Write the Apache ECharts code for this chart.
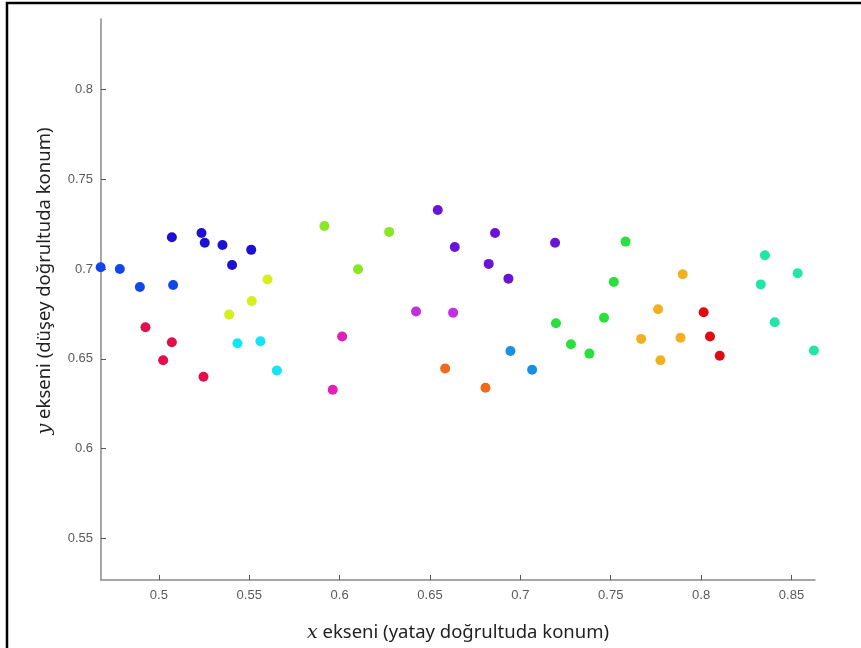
<!DOCTYPE html>
<html>
<head>
<meta charset="utf-8">
<script src="https://cdn.jsdelivr.net/npm/echarts@6/dist/echarts.min.js"></script>
<style>
  html, body { margin: 0; padding: 0; background: #fff; }
  #chart { width: 861px; height: 648px; }
</style>
</head>
<body>
<div id="chart"></div>
<script>
// tick values
var xTicks = [0.5, 0.55, 0.6, 0.65, 0.7, 0.75, 0.8, 0.85];
var yTicks = [0.55, 0.6, 0.65, 0.7, 0.75, 0.8];

// point groups, [x, y]
var blue = [[0.4678, 0.7009], [0.4784, 0.700], [0.4895, 0.690], [0.5079, 0.6911]];
var darkBlue = [[0.5072, 0.7176], [0.5236, 0.720], [0.5254, 0.7146], [0.5352, 0.7133], [0.5405, 0.7022], [0.5511, 0.7106]];
var yellowGreen = [[0.5389, 0.6746], [0.5514, 0.6822], [0.5601, 0.6941]];
var crimson = [[0.4926, 0.6676], [0.5072, 0.6592], [0.5024, 0.6492], [0.5247, 0.640]];
var cyan = [[0.5435, 0.6587], [0.5562, 0.6598], [0.5653, 0.6435]];
var lime = [[0.5916, 0.7239], [0.6102, 0.6998], [0.6274, 0.7206]];
var magenta = [[0.5962, 0.6328], [0.6014, 0.6624]];
var violet = [[0.6423, 0.6763], [0.6628, 0.6757]];
var purple = [[0.6543, 0.7328], [0.6637, 0.7122], [0.6825, 0.7028], [0.6860, 0.720], [0.6934, 0.6946], [0.7192, 0.7146]];
var orange = [[0.6584, 0.6446], [0.6807, 0.6339]];
var skyBlue = [[0.6945, 0.6544], [0.7065, 0.6439]];
var green = [[0.7197, 0.6698], [0.7280, 0.6581], [0.7382, 0.6529], [0.7463, 0.6729], [0.7517, 0.6928], [0.7582, 0.7152]];
var gold = [[0.7668, 0.6611], [0.7762, 0.6776], [0.7775, 0.6492], [0.7886, 0.6617], [0.7898, 0.6970]];
var red = [[0.8014, 0.6759], [0.8049, 0.6624], [0.8103, 0.6517]];
var teal = [[0.8330, 0.6914], [0.8353, 0.7076], [0.8407, 0.6703], [0.8534, 0.6976], [0.8624, 0.6546]];

var groups = [
    [blue, '#1246e8'],
    [darkBlue, '#1c10d4'],
    [yellowGreen, '#d4ee1e'],
    [crimson, '#e0104e'],
    [cyan, '#14e4f6'],
    [lime, '#8ae628'],
    [magenta, '#e020b6'],
    [violet, '#c42ee0'],
    [purple, '#6a14d8'],
    [orange, '#f06818'],
    [skyBlue, '#1a90e2'],
    [green, '#2ae03c'],
    [gold, '#f0b020'],
    [red, '#e00a12'],
    [teal, '#22e6a6']
];

var axisColor = '#8a8a8a';
var labelStyle = {color: '#5a5a5a', fontSize: 13, fontFamily: 'Liberation Sans, Arial, sans-serif'};

var option = {
    animation: false,
    backgroundColor: '#fff',
    grid: {left: 101, right: 46, top: 19, bottom: 68},
    xAxis: {
        type: 'value',
        min: 0.468,
        max: 0.863,
        splitLine: {show: false},
        axisLine: {lineStyle: {color: axisColor, width: 1.5}},
        axisTick: {inside: true, length: 5, customValues: xTicks, lineStyle: {color: '#555'}},
        axisLabel: Object.assign({customValues: xTicks, margin: 9}, labelStyle)
    },
    yAxis: {
        type: 'value',
        min: 0.527,
        max: 0.839,
        splitLine: {show: false},
        axisLine: {lineStyle: {color: axisColor, width: 1.5}},
        axisTick: {inside: true, length: 5, customValues: yTicks, lineStyle: {color: '#555'}},
        axisLabel: Object.assign({customValues: yTicks, margin: 8}, labelStyle)
    },
    series: groups.map(function (g) {
        return {
            type: 'scatter',
            data: g[0],
            symbolSize: 10,
            clip: false,
            itemStyle: {color: g[1], opacity: 1}
        };
    }),
    graphic: [
        {
            type: 'rect',
            shape: {x: 7, y: 3, width: 900, height: 700},
            style: {fill: null, stroke: '#000', lineWidth: 2.5}
        },
        {
            type: 'text',
            x: 458, y: 633,
            style: {
                text: '{i|x} ekseni (yatay doğrultuda konum)',
                fontFamily: 'Noto Sans', fontSize: 18.5, fill: '#222',
                align: 'center', verticalAlign: 'middle',
                rich: {i: {fontFamily: 'DejaVu Serif', fontStyle: 'italic', fontSize: 19, fill: '#222'}}
            }
        },
        {
            type: 'text',
            x: 45, y: 281,
            rotation: Math.PI / 2,
            style: {
                text: '{i|y} ekseni (düşey doğrultuda konum)',
                fontFamily: 'Noto Sans', fontSize: 18.5, fill: '#222',
                align: 'center', verticalAlign: 'middle',
                rich: {i: {fontFamily: 'DejaVu Serif', fontStyle: 'italic', fontSize: 19, fill: '#222'}}
            }
        }
    ]
};

var chart = echarts.init(document.getElementById('chart'));
chart.setOption(option);
</script>
</body>
</html>
